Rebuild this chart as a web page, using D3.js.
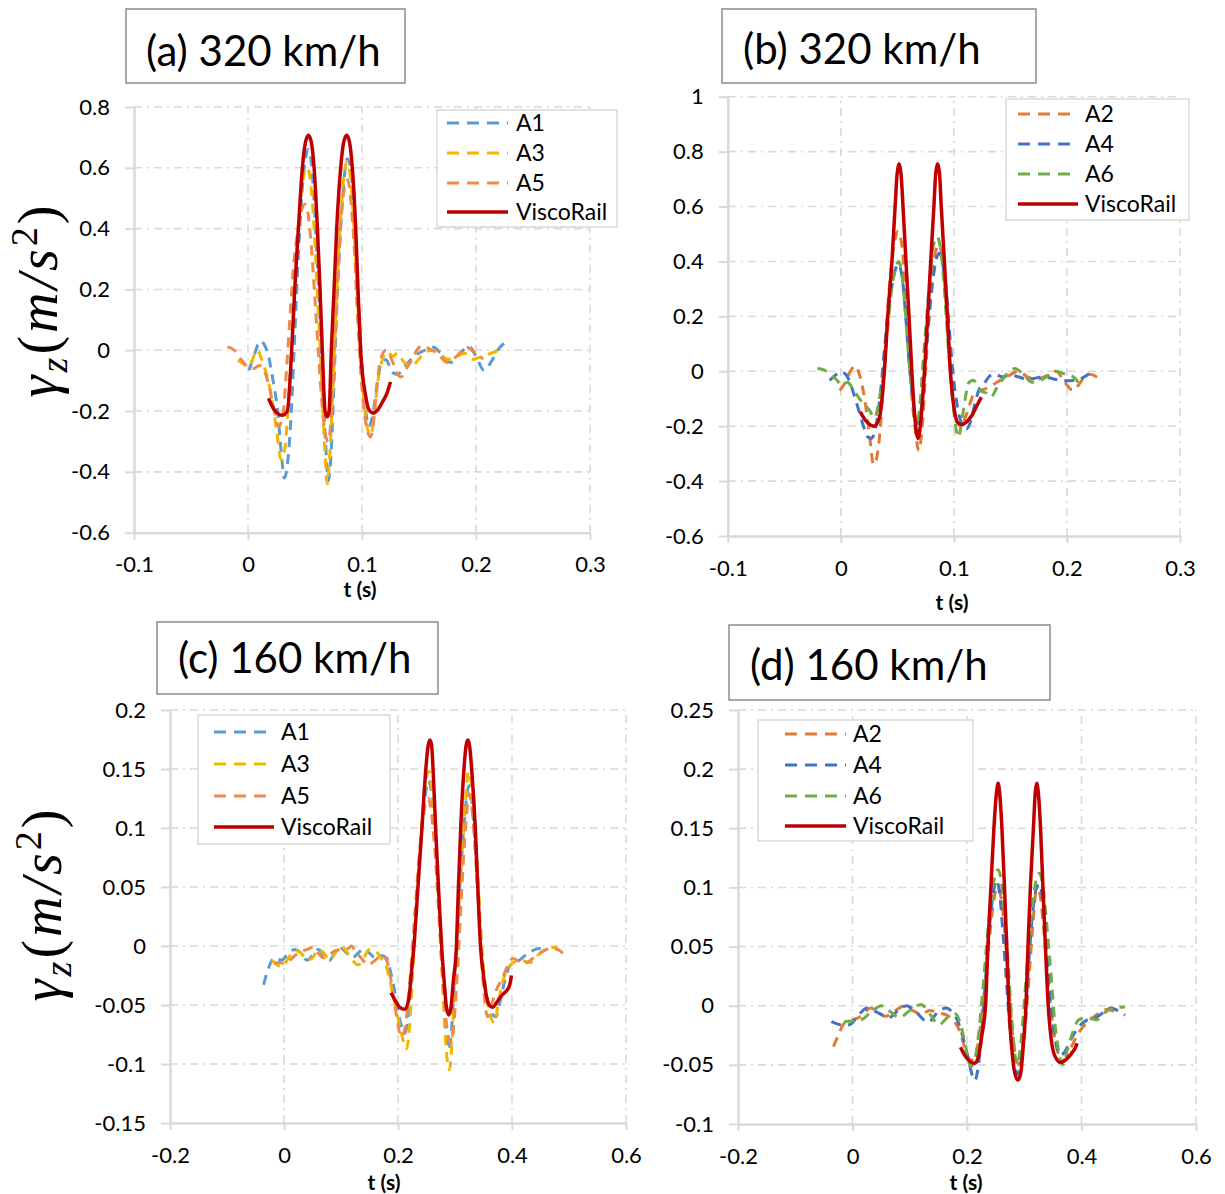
<!DOCTYPE html>
<html>
<head>
<meta charset="utf-8">
<script src="https://cdn.jsdelivr.net/npm/d3@7/dist/d3.min.js"></script>
<style>
  body { margin: 0; background: #fff; }
  svg { display: block; }
  text { font-family: Lato, "Open Sans", sans-serif; fill: #000; }
</style>
</head>
<body>
<div id="chart"></div>
<script>
// ---------- data: [t (s), gamma_z (m/s^2)] ----------

// (a) 320 km/h
let aA1 = [[0.001,-0.066],[0.006,-0.01],[0.0105,0.03],[0.014,0.02],[0.018,-0.02],[0.022,-0.1],[0.026,-0.2],[0.029,-0.33],[0.032,-0.42],[0.035,-0.36],[0.038,-0.2],[0.041,0.05],[0.044,0.3],[0.047,0.5],[0.050,0.62],[0.053,0.66],[0.056,0.6],[0.059,0.42],[0.062,0.2],[0.065,-0.05],[0.068,-0.3],[0.0705,-0.43],[0.073,-0.33],[0.0755,-0.1],[0.078,0.15],[0.081,0.38],[0.084,0.55],[0.087,0.63],[0.090,0.6],[0.093,0.45],[0.096,0.22],[0.099,0.0],[0.102,-0.15],[0.106,-0.25],[0.109,-0.22],[0.113,-0.12],[0.117,-0.04],[0.121,-0.03],[0.126,-0.07],[0.131,-0.08],[0.138,-0.05],[0.146,-0.02],[0.155,0.0],[0.163,0.01],[0.17,-0.015],[0.178,-0.04],[0.186,-0.01],[0.194,0.012],[0.2,-0.02],[0.207,-0.066],[0.213,-0.04],[0.219,0.0],[0.226,0.027]];
let aA3 = [[-0.009,-0.033],[-0.004,-0.045],[0.001,-0.055],[0.005,-0.02],[0.008,0.0],[0.012,-0.03],[0.017,-0.09],[0.021,-0.16],[0.025,-0.26],[0.029,-0.36],[0.032,-0.33],[0.035,-0.2],[0.038,0.0],[0.041,0.2],[0.044,0.4],[0.047,0.53],[0.050,0.59],[0.052,0.6],[0.055,0.55],[0.058,0.4],[0.061,0.18],[0.064,-0.05],[0.067,-0.3],[0.0695,-0.44],[0.072,-0.33],[0.075,-0.08],[0.078,0.2],[0.081,0.42],[0.084,0.57],[0.087,0.62],[0.090,0.56],[0.093,0.4],[0.096,0.18],[0.099,-0.03],[0.102,-0.18],[0.105,-0.26],[0.1076,-0.28],[0.111,-0.2],[0.114,-0.1],[0.118,-0.03],[0.122,-0.005],[0.127,-0.02],[0.131,-0.01],[0.137,-0.04],[0.144,-0.05],[0.152,-0.02],[0.161,0.0],[0.168,-0.01],[0.175,-0.03],[0.183,-0.02],[0.19,-0.01],[0.197,-0.03],[0.205,-0.02],[0.213,-0.01],[0.221,0.0]];
let aA5 = [[-0.018,0.011],[-0.012,0.0],[-0.006,-0.03],[0.0,-0.055],[0.005,-0.06],[0.01,-0.05],[0.014,-0.066],[0.018,-0.11],[0.022,-0.18],[0.027,-0.25],[0.031,-0.2],[0.034,-0.05],[0.037,0.12],[0.040,0.28],[0.044,0.4],[0.047,0.46],[0.050,0.48],[0.053,0.44],[0.056,0.32],[0.059,0.15],[0.062,-0.02],[0.065,-0.18],[0.068,-0.28],[0.0705,-0.3],[0.073,-0.22],[0.076,0.0],[0.079,0.25],[0.082,0.45],[0.085,0.54],[0.0875,0.56],[0.090,0.5],[0.093,0.35],[0.096,0.12],[0.099,-0.08],[0.102,-0.2],[0.105,-0.27],[0.1076,-0.285],[0.11,-0.24],[0.113,-0.12],[0.116,-0.033],[0.121,0.0],[0.126,-0.03],[0.13,-0.07],[0.134,-0.088],[0.139,-0.06],[0.144,-0.03],[0.149,0.005],[0.153,0.016],[0.159,0.005],[0.166,-0.01],[0.175,-0.04],[0.183,-0.02],[0.192,0.01],[0.198,-0.005],[0.204,-0.02],[0.206,-0.03]];
let aVisco = [[0.018,-0.158],[0.022,-0.19],[0.026,-0.208],[0.030,-0.214],[0.0345,-0.2],[0.0383,0.0],[0.041,0.2],[0.0442,0.4],[0.0477,0.6],[0.0505,0.685],[0.053,0.707],[0.0555,0.685],[0.058,0.6],[0.0609,0.4],[0.0632,0.2],[0.0652,0.0],[0.0676,-0.2],[0.0696,-0.219],[0.0712,-0.2],[0.0731,0.0],[0.0755,0.2],[0.0778,0.4],[0.0813,0.6],[0.084,0.685],[0.0866,0.707],[0.089,0.685],[0.0915,0.6],[0.0945,0.4],[0.0965,0.2],[0.0988,0.0],[0.1032,-0.15],[0.106,-0.195],[0.1097,-0.206],[0.114,-0.195],[0.118,-0.17],[0.122,-0.14],[0.125,-0.104]];

// (b) 320 km/h
let bA2 = [[-0.001,-0.07],[0.004,-0.04],[0.0085,0.0],[0.0125,0.02],[0.017,-0.02],[0.021,-0.1],[0.025,-0.22],[0.029,-0.34],[0.032,-0.31],[0.035,-0.2],[0.038,0.0],[0.041,0.2],[0.044,0.36],[0.047,0.46],[0.0505,0.51],[0.054,0.46],[0.057,0.3],[0.06,0.1],[0.063,-0.1],[0.066,-0.22],[0.069,-0.29],[0.072,-0.2],[0.075,0.0],[0.078,0.2],[0.081,0.36],[0.084,0.44],[0.087,0.46],[0.09,0.4],[0.093,0.25],[0.096,0.05],[0.099,-0.1],[0.102,-0.17],[0.106,-0.2],[0.11,-0.17],[0.114,-0.12],[0.118,-0.08],[0.1234,-0.07],[0.13,-0.06],[0.138,-0.04],[0.147,-0.02],[0.157,0.0],[0.165,-0.02],[0.173,-0.03],[0.18,-0.02],[0.1905,0.0],[0.198,-0.04],[0.2055,-0.07],[0.212,-0.04],[0.218,-0.01],[0.224,-0.015],[0.2285,-0.03]];
let bA4 = [[-0.01,-0.033],[-0.005,-0.015],[-0.001,-0.002],[0.004,-0.01],[0.008,-0.04],[0.012,-0.09],[0.0157,-0.14],[0.02,-0.2],[0.024,-0.24],[0.027,-0.245],[0.031,-0.2],[0.035,-0.08],[0.039,0.1],[0.043,0.25],[0.047,0.35],[0.0506,0.39],[0.054,0.35],[0.057,0.22],[0.06,0.05],[0.063,-0.08],[0.066,-0.17],[0.0683,-0.19],[0.071,-0.14],[0.074,0.0],[0.077,0.15],[0.08,0.28],[0.084,0.4],[0.087,0.43],[0.09,0.4],[0.093,0.3],[0.096,0.15],[0.099,0.0],[0.102,-0.1],[0.106,-0.18],[0.111,-0.21],[0.115,-0.18],[0.119,-0.11],[0.123,-0.06],[0.1267,-0.045],[0.131,-0.02],[0.135,-0.01],[0.143,-0.02],[0.15,-0.015],[0.157,-0.02],[0.165,-0.03],[0.172,-0.025],[0.18,-0.02],[0.19,-0.03],[0.2,-0.035],[0.21,-0.03],[0.2194,-0.01]];
let bA6 = [[-0.0208,0.01],[-0.015,0.005],[-0.01,-0.01],[-0.004,-0.03],[0.001,-0.051],[0.006,-0.04],[0.01,-0.06],[0.0175,-0.106],[0.025,-0.14],[0.03,-0.17],[0.034,-0.1],[0.038,0.0],[0.041,0.137],[0.045,0.3],[0.048,0.37],[0.0513,0.4],[0.054,0.35],[0.057,0.22],[0.06,0.05],[0.063,-0.08],[0.0655,-0.16],[0.0675,-0.19],[0.07,-0.12],[0.073,0.05],[0.076,0.2],[0.079,0.35],[0.082,0.46],[0.0852,0.49],[0.088,0.45],[0.091,0.33],[0.094,0.15],[0.097,-0.02],[0.1,-0.15],[0.104,-0.24],[0.107,-0.18],[0.11,-0.1],[0.1135,-0.04],[0.1175,-0.033],[0.123,-0.07],[0.129,-0.08],[0.1328,-0.094],[0.138,-0.06],[0.143,-0.03],[0.154,0.01],[0.161,-0.01],[0.169,-0.04],[0.178,-0.03],[0.1905,0.0],[0.198,-0.01],[0.2055,-0.02],[0.21,-0.04]];
let bVisco = [[0.0172,-0.148],[0.022,-0.18],[0.0294,-0.2],[0.034,-0.17],[0.0385,0.0],[0.0415,0.2],[0.0452,0.4],[0.048,0.6],[0.0498,0.72],[0.0515,0.756],[0.0532,0.72],[0.055,0.6],[0.0576,0.4],[0.0603,0.2],[0.0628,0.0],[0.0655,-0.17],[0.0683,-0.245],[0.071,-0.17],[0.074,0.0],[0.0768,0.2],[0.0795,0.4],[0.0823,0.6],[0.0839,0.72],[0.0856,0.756],[0.0873,0.72],[0.0888,0.6],[0.0916,0.4],[0.0943,0.2],[0.0969,0.0],[0.1,-0.13],[0.103,-0.185],[0.1069,-0.194],[0.111,-0.185],[0.116,-0.16],[0.121,-0.12],[0.1243,-0.094]];

// (c) 160 km/h
let cA1 = [[-0.0358,-0.033],[-0.028,-0.02],[-0.021,-0.012],[-0.014,-0.01],[-0.005,-0.012],[0.005,-0.008],[0.0186,-0.003],[0.03,-0.006],[0.04,-0.012],[0.05,-0.008],[0.06,-0.003],[0.07,-0.008],[0.08,-0.012],[0.09,-0.005],[0.1,-0.002],[0.11,-0.006],[0.12,-0.01],[0.13,-0.006],[0.14,-0.002],[0.15,-0.006],[0.16,-0.01],[0.17,-0.008],[0.18,-0.01],[0.186,-0.02],[0.1937,-0.037],[0.2,-0.055],[0.206,-0.068],[0.212,-0.074],[0.218,-0.06],[0.224,-0.025],[0.23,0.02],[0.236,0.06],[0.242,0.1],[0.248,0.128],[0.2535,0.14],[0.259,0.13],[0.264,0.1],[0.27,0.05],[0.276,0.0],[0.281,-0.045],[0.285,-0.075],[0.289,-0.088],[0.294,-0.07],[0.299,-0.03],[0.305,0.02],[0.311,0.07],[0.317,0.11],[0.322,0.132],[0.3256,0.136],[0.33,0.12],[0.336,0.08],[0.342,0.03],[0.348,-0.01],[0.355,-0.04],[0.363,-0.056],[0.372,-0.06],[0.38,-0.045],[0.388,-0.028],[0.396,-0.017],[0.41,-0.013],[0.426,-0.007],[0.44,-0.003],[0.4505,-0.002]];
let cA3 = [[-0.021,-0.012],[-0.012,-0.016],[-0.003,-0.0175],[0.008,-0.01],[0.02,-0.004],[0.03,-0.006],[0.04,-0.012],[0.05,-0.01],[0.06,-0.003],[0.07,-0.006],[0.08,-0.012],[0.09,-0.006],[0.1,0.0],[0.11,-0.005],[0.12,-0.012],[0.13,-0.016],[0.14,-0.01],[0.15,-0.003],[0.16,-0.004],[0.17,-0.01],[0.178,-0.015],[0.186,-0.03],[0.195,-0.05],[0.205,-0.072],[0.215,-0.087],[0.22,-0.07],[0.225,-0.03],[0.231,0.02],[0.237,0.07],[0.243,0.11],[0.249,0.14],[0.254,0.148],[0.259,0.135],[0.264,0.1],[0.27,0.05],[0.276,-0.01],[0.281,-0.06],[0.286,-0.095],[0.29,-0.105],[0.295,-0.08],[0.3,-0.03],[0.306,0.02],[0.312,0.07],[0.318,0.12],[0.3237,0.148],[0.329,0.135],[0.335,0.1],[0.341,0.05],[0.347,0.0],[0.353,-0.035],[0.36,-0.055],[0.369,-0.065],[0.377,-0.045],[0.385,-0.028],[0.392,-0.02],[0.4,-0.015],[0.415,-0.012],[0.432,-0.014],[0.445,-0.008],[0.4626,-0.002],[0.48,-0.001]];
let cA5 = [[-0.0175,-0.0145],[-0.008,-0.014],[0.003,-0.015],[0.015,-0.01],[0.0276,-0.005],[0.04,-0.003],[0.051,-0.001],[0.06,-0.006],[0.069,-0.01],[0.08,-0.007],[0.09,-0.004],[0.1,-0.003],[0.113,-0.002],[0.118,0.0],[0.125,-0.004],[0.135,-0.01],[0.148,-0.016],[0.16,-0.012],[0.171,-0.008],[0.18,-0.012],[0.188,-0.03],[0.196,-0.055],[0.2058,-0.077],[0.212,-0.07],[0.218,-0.045],[0.224,-0.01],[0.23,0.03],[0.236,0.07],[0.242,0.1],[0.248,0.12],[0.253,0.125],[0.258,0.115],[0.264,0.085],[0.27,0.04],[0.276,-0.01],[0.282,-0.05],[0.2875,-0.075],[0.2934,-0.082],[0.299,-0.06],[0.305,-0.015],[0.311,0.04],[0.317,0.09],[0.322,0.12],[0.3246,0.129],[0.329,0.12],[0.335,0.085],[0.341,0.035],[0.347,-0.015],[0.352,-0.045],[0.357,-0.06],[0.364,-0.05],[0.372,-0.038],[0.3842,-0.026],[0.393,-0.016],[0.402,-0.0105],[0.412,-0.013],[0.42,-0.015],[0.43,-0.013],[0.44,-0.009],[0.452,-0.005],[0.468,-0.002],[0.48,-0.003],[0.4894,-0.006]];
let cVisco = [[0.1877,-0.0396],[0.195,-0.046],[0.203,-0.052],[0.212,-0.0537],[0.219,-0.045],[0.224,-0.02],[0.228,0.0],[0.235,0.05],[0.242,0.1],[0.248,0.145],[0.253,0.17],[0.256,0.1746],[0.259,0.17],[0.262,0.145],[0.266,0.1],[0.271,0.05],[0.2765,0.0],[0.281,-0.03],[0.285,-0.052],[0.289,-0.0585],[0.293,-0.052],[0.297,-0.03],[0.3025,0.0],[0.306,0.05],[0.31,0.1],[0.315,0.145],[0.3195,0.17],[0.3225,0.1746],[0.3255,0.17],[0.33,0.145],[0.3356,0.1],[0.34,0.05],[0.3447,0.0],[0.35,-0.025],[0.355,-0.042],[0.36,-0.05],[0.366,-0.052],[0.373,-0.048],[0.38,-0.043],[0.386,-0.04],[0.392,-0.037],[0.396,-0.033],[0.399,-0.025]];

// (d) 160 km/h
let dA2 = [[-0.0333,-0.0347],[-0.024,-0.024],[-0.0147,-0.015],[-0.005,-0.013],[0.0135,-0.0093],[0.032,-0.002],[0.045,-0.006],[0.0575,-0.009],[0.075,-0.004],[0.0918,0.0],[0.105,-0.004],[0.12,-0.007],[0.135,-0.004],[0.15,-0.006],[0.165,-0.008],[0.176,-0.012],[0.186,-0.02],[0.196,-0.035],[0.207,-0.046],[0.216,-0.04],[0.224,-0.015],[0.232,0.02],[0.24,0.06],[0.247,0.09],[0.2535,0.1],[0.26,0.09],[0.267,0.055],[0.274,0.01],[0.28,-0.025],[0.286,-0.045],[0.2915,-0.05],[0.297,-0.04],[0.303,-0.01],[0.31,0.035],[0.316,0.075],[0.3215,0.098],[0.327,0.095],[0.333,0.07],[0.34,0.03],[0.347,-0.005],[0.354,-0.03],[0.362,-0.043],[0.37,-0.046],[0.382,-0.035],[0.395,-0.023],[0.408,-0.015],[0.42,-0.01],[0.432,-0.006],[0.445,-0.003],[0.457,-0.005]];
let dA4 = [[-0.0368,-0.0135],[-0.02,-0.016],[-0.005,-0.016],[0.01,-0.008],[0.026,-0.002],[0.045,-0.006],[0.0636,-0.01],[0.08,-0.004],[0.0946,0.0],[0.11,-0.005],[0.1324,-0.014],[0.148,-0.006],[0.1636,-0.002],[0.175,-0.006],[0.183,-0.012],[0.192,-0.025],[0.202,-0.045],[0.2137,-0.063],[0.22,-0.05],[0.226,-0.02],[0.232,0.02],[0.238,0.06],[0.2445,0.09],[0.2512,0.106],[0.257,0.095],[0.263,0.06],[0.269,0.02],[0.275,-0.02],[0.281,-0.045],[0.2888,-0.058],[0.295,-0.045],[0.301,-0.01],[0.307,0.03],[0.313,0.07],[0.32,0.097],[0.3263,0.103],[0.332,0.09],[0.338,0.055],[0.344,0.015],[0.35,-0.015],[0.356,-0.033],[0.3637,-0.042],[0.372,-0.038],[0.382,-0.028],[0.395,-0.018],[0.41,-0.012],[0.425,-0.01],[0.44,-0.005],[0.451,-0.002],[0.463,-0.004],[0.476,-0.008]];
let dA6 = [[-0.0147,-0.0135],[0.0,-0.013],[0.015,-0.012],[0.033,-0.005],[0.0508,0.0],[0.066,-0.005],[0.082,-0.01],[0.1,-0.004],[0.12,0.001],[0.135,-0.007],[0.151,-0.016],[0.166,-0.01],[0.18,-0.007],[0.19,-0.018],[0.198,-0.035],[0.207,-0.0515],[0.214,-0.045],[0.22,-0.025],[0.227,0.01],[0.234,0.05],[0.241,0.085],[0.248,0.108],[0.2543,0.115],[0.26,0.105],[0.266,0.075],[0.272,0.035],[0.278,-0.01],[0.283,-0.038],[0.287,-0.05],[0.292,-0.04],[0.298,-0.01],[0.305,0.035],[0.312,0.075],[0.319,0.102],[0.3263,0.112],[0.333,0.1],[0.34,0.065],[0.347,0.025],[0.353,-0.012],[0.36,-0.038],[0.367,-0.05],[0.375,-0.038],[0.385,-0.022],[0.395,-0.012],[0.41,-0.01],[0.426,-0.012],[0.44,-0.006],[0.4576,-0.002],[0.476,-0.001]];
let dVisco = [[0.1886,-0.0352],[0.196,-0.042],[0.205,-0.047],[0.2137,-0.0487],[0.22,-0.043],[0.226,-0.025],[0.2324,0.0],[0.2365,0.05],[0.2417,0.1],[0.247,0.15],[0.2515,0.18],[0.2543,0.188],[0.257,0.18],[0.261,0.15],[0.2655,0.1],[0.2695,0.05],[0.2732,0.0],[0.278,-0.035],[0.2835,-0.057],[0.2888,-0.0628],[0.294,-0.057],[0.298,-0.035],[0.303,0.0],[0.3065,0.05],[0.3107,0.1],[0.316,0.15],[0.3192,0.18],[0.3219,0.188],[0.3246,0.18],[0.3285,0.15],[0.3326,0.1],[0.337,0.05],[0.3419,0.0],[0.347,-0.028],[0.353,-0.042],[0.3637,-0.048],[0.372,-0.046],[0.38,-0.042],[0.386,-0.038],[0.389,-0.036],[0.392,-0.0318]];

// tick values
let xTicks320 = [-0.1, 0, 0.1, 0.2, 0.3];
let xTicks160 = [-0.2, 0, 0.2, 0.4, 0.6];
let yTicksA = [-0.6, -0.4, -0.2, 0, 0.2, 0.4, 0.6, 0.8];
let yTicksB = [-0.6, -0.4, -0.2, 0, 0.2, 0.4, 0.6, 0.8, 1];
let yTicksC = [-0.15, -0.1, -0.05, 0, 0.05, 0.1, 0.15, 0.2];
let yTicksD = [-0.1, -0.05, 0, 0.05, 0.1, 0.15, 0.2, 0.25];

// series names / colours
let oddNames = ["A1", "A3", "A5", "ViscoRail"];
let evenNames = ["A2", "A4", "A6", "ViscoRail"];
let oddColors = ["#5B9BD5", "#F2B600", "#F08A48", "#C00000"];
let evenColors = ["#E27A34", "#4472C4", "#70AD47", "#C00000"];
let titles = ["(a) 320 km/h", "(b) 320 km/h", "(c) 160 km/h", "(d) 160 km/h"];

// ---------- layout ----------
let panels = [
  { title: titles[0], series: [aA1, aA3, aA5, aVisco], names: oddNames, colors: oddColors,
    xTicks: xTicks320, yTicks: yTicksA, xRange: [134, 590], yRange: [532.7, 107],
    titleBox: [126, 9, 279, 74], titleX: 146, titleY: 66,
    legend: [437, 110, 180, 117], legRows: [13, 43, 73, 102], legLine: [10, 71], legText: 79,
    xLabel: [360, 590], yLabel: [40, 300] },
  { title: titles[1], series: [bA2, bA4, bA6, bVisco], names: evenNames, colors: evenColors,
    xTicks: xTicks320, yTicks: yTicksB, xRange: [727.8, 1180], yRange: [536, 96.7],
    titleBox: [722, 9, 314, 74], titleX: 743, titleY: 64,
    legend: [1006, 99, 183, 121], legRows: [15, 45, 75, 105], legLine: [12, 72], legText: 79,
    xLabel: [952, 603] },
  { title: titles[2], series: [cA1, cA3, cA5, cVisco], names: oddNames, colors: oddColors,
    xTicks: xTicks160, yTicks: yTicksC, xRange: [170, 626], yRange: [1123, 710],
    titleBox: [157, 622, 281, 72], titleX: 178, titleY: 673,
    legend: [198, 715, 192, 129], legRows: [17, 49, 81, 112], legLine: [16, 76], legText: 83,
    xLabel: [384, 1183], yLabel: [44, 904] },
  { title: titles[3], series: [dA2, dA4, dA6, dVisco], names: evenNames, colors: evenColors,
    xTicks: xTicks160, yTicks: yTicksD, xRange: [738, 1196], yRange: [1124, 710],
    titleBox: [729, 625, 321, 75], titleX: 750, titleY: 680,
    legend: [758, 720, 215, 121], legRows: [14, 45, 76, 106], legLine: [27, 88], legText: 95,
    xLabel: [966, 1183] }
];

let svg = d3.select("#chart").append("svg")
  .attr("width", 1225).attr("height", 1194);

let fmt = d => String(+d.toFixed(3));
let gridColor = "#d9d9d9";

panels.forEach(function(p) {
  let xScale = d3.scaleLinear()
    .domain([p.xTicks[0], p.xTicks[p.xTicks.length - 1]])
    .range(p.xRange);
  let yScale = d3.scaleLinear()
    .domain([p.yTicks[0], p.yTicks[p.yTicks.length - 1]])
    .range(p.yRange);
  let g = svg.append("g");

  // dash-dot gridlines
  g.selectAll(".vgrid").data(p.xTicks.slice(1)).enter().append("line")
    .attr("x1", d => xScale(d)).attr("x2", d => xScale(d))
    .attr("y1", p.yRange[0]).attr("y2", p.yRange[1])
    .attr("stroke", gridColor).attr("stroke-width", 1.6)
    .attr("stroke-dasharray", "8,5,2,5");
  g.selectAll(".hgrid").data(p.yTicks.slice(1)).enter().append("line")
    .attr("x1", p.xRange[0]).attr("x2", p.xRange[1])
    .attr("y1", d => yScale(d)).attr("y2", d => yScale(d))
    .attr("stroke", gridColor).attr("stroke-width", 1.6)
    .attr("stroke-dasharray", "8,5,2,5");

  // axes
  let leftAxis = d3.axisLeft(yScale).tickValues(p.yTicks).tickFormat(fmt)
    .tickSize(9).tickSizeOuter(0).tickPadding(15);
  let bottomAxis = d3.axisBottom(xScale).tickValues(p.xTicks).tickFormat(fmt)
    .tickSize(7).tickSizeOuter(0).tickPadding(17);
  let gy = g.append("g").attr("transform", `translate(${p.xRange[0]},0)`).call(leftAxis);
  let gx = g.append("g").attr("transform", `translate(0,${p.yRange[0]})`).call(bottomAxis);
  [gx, gy].forEach(a => {
    a.select(".domain").attr("stroke", gridColor).attr("stroke-width", 2.5);
    a.selectAll(".tick line").attr("stroke", gridColor).attr("stroke-width", 2);
    a.selectAll(".tick text").attr("font-family", "Lato, sans-serif")
      .attr("font-size", 22).attr("fill", "#000");
  });

  // curves
  let line = d3.line()
    .x(d => xScale(d[0])).y(d => yScale(d[1]))
    .curve(d3.curveMonotoneX);
  p.series.forEach(function(s, i) {
    let solid = i === p.series.length - 1;
    g.append("path").datum(s)
      .attr("d", line)
      .attr("fill", "none")
      .attr("stroke", p.colors[i])
      .attr("stroke-width", solid ? 3.5 : 3)
      .attr("stroke-dasharray", solid ? null : "10,7")
      .attr("stroke-linejoin", "round");
  });

  // legend
  let lg = g.append("g").attr("transform", `translate(${p.legend[0]},${p.legend[1]})`);
  lg.append("rect").attr("width", p.legend[2]).attr("height", p.legend[3])
    .attr("fill", "#fff").attr("stroke", gridColor).attr("stroke-width", 1.5);
  p.names.forEach(function(n, i) {
    let solid = i === p.names.length - 1;
    lg.append("line")
      .attr("x1", p.legLine[0]).attr("x2", p.legLine[1])
      .attr("y1", p.legRows[i]).attr("y2", p.legRows[i])
      .attr("stroke", p.colors[i]).attr("stroke-width", solid ? 3.5 : 3)
      .attr("stroke-dasharray", solid ? null : "12,8");
    lg.append("text").attr("x", p.legText).attr("y", p.legRows[i])
      .attr("dy", "0.36em").attr("font-size", 23).text(n);
  });

  // title box
  svg.append("rect")
    .attr("x", p.titleBox[0]).attr("y", p.titleBox[1])
    .attr("width", p.titleBox[2]).attr("height", p.titleBox[3])
    .attr("fill", "#fff").attr("stroke", "#8c8c8c").attr("stroke-width", 1.5);
  svg.append("text").attr("x", p.titleX).attr("y", p.titleY)
    .attr("font-size", 42).text(p.title);

  // axis titles
  g.append("text").attr("x", p.xLabel[0]).attr("y", p.xLabel[1])
    .attr("dy", "0.35em").attr("text-anchor", "middle")
    .attr("font-size", 21).attr("font-weight", "bold").text("t (s)");

  if (p.yLabel) {
    let yl = g.append("text")
      .attr("transform", `translate(${p.yLabel[0]},${p.yLabel[1]}) rotate(-90)`)
      .attr("text-anchor", "middle").attr("dy", "0.3em")
      .style("font-family", "'Liberation Serif', 'DejaVu Serif', serif")
      .attr("font-size", 56).attr("font-style", "italic")
      .attr("letter-spacing", 3);
    yl.append("tspan").text("γ");
    yl.append("tspan").attr("font-size", 38).attr("dy", 10).text("z");
    yl.append("tspan").attr("font-style", "normal").attr("dy", -10).text("(");
    yl.append("tspan").text("m/s");
    yl.append("tspan").attr("font-style", "normal").attr("font-size", 38).attr("dy", -20).text("2");
    yl.append("tspan").attr("font-style", "normal").attr("dy", 20).text(")");
  }
});
</script>
</body>
</html>
